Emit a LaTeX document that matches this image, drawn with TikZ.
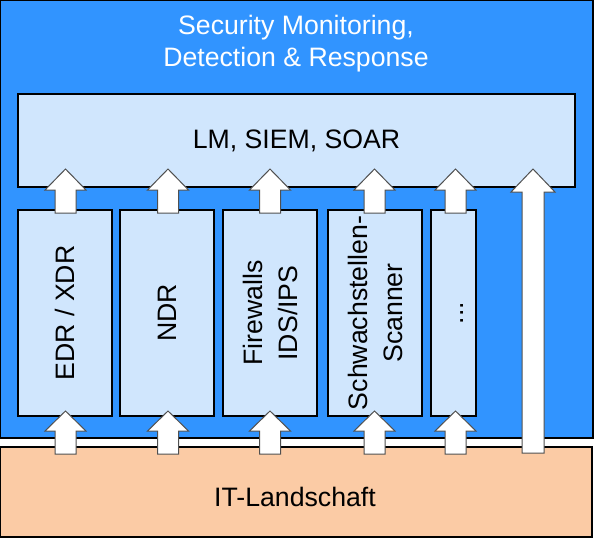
\documentclass[tikz,border=0pt]{standalone}
\usepackage{fontspec}
\setmainfont{Liberation Sans}
\usetikzlibrary{calc}
\definecolor{bgblue}{HTML}{3194FF}
\definecolor{boxblue}{HTML}{D0E6FD}
\definecolor{itorange}{HTML}{FBCBA5}
\definecolor{arrline}{HTML}{505050}
\def\pxu{0.75pt}
\newcommand\blockarr[6]{%
  \draw[blockarrow] (#1-#5,#2) -- (#1-#5,#3) -- (#1-#6,#3) -- (#1,#4) --
    (#1+#6,#3) -- (#1+#5,#3) -- (#1+#5,#2) -- cycle;}
\tikzset{
  boxbase/.style={draw=black, line width=0.8pt, inner sep=0pt, outer sep=0pt, anchor=north west},
  bluebg/.style={boxbase, fill=bgblue},
  lightbox/.style={boxbase, fill=boxblue},
  orangebox/.style={boxbase, fill=itorange},
  titletext/.style={text=white, align=center, inner sep=0pt, font=\fontsize{20}{24}\selectfont},
  bigtext/.style={text=black, inner sep=0pt, font=\fontsize{20}{24}\selectfont},
  coltext/.style={text=black, rotate=90, align=center, inner sep=0pt, font=\fontsize{20}{26.25}\selectfont},
  blockarrow/.style={fill=white, draw=arrline, line width=0.75pt, line join=miter},
}
\begin{document}
\begin{tikzpicture}[x=0.75pt, y=-0.75pt]
\useasboundingbox (0,0) rectangle (594,539);
% background areas
\node[bluebg, minimum width=592.5*\pxu, minimum height=437.5*\pxu] (smdr) at (0.5,0.5) {};
\node[orangebox, minimum width=591.5*\pxu, minimum height=90*\pxu] (it) at (0.5,447) {};
% title
\node[titletext, anchor=north] (title) at (296,15) {Security Monitoring,\\Detection \& Response};
% LM box
\node[lightbox, minimum width=557*\pxu, minimum height=93*\pxu] (lm) at (18,94) {};
\node[bigtext] (lmlabel) at (lm.center) {LM, SIEM, SOAR};
% columns
\node[lightbox, minimum width=94*\pxu, minimum height=206*\pxu] (c1) at (18,210) {};
\node[lightbox, minimum width=94*\pxu, minimum height=206*\pxu] (c2) at (120,210) {};
\node[lightbox, minimum width=94*\pxu, minimum height=206*\pxu] (c3) at (223,210) {};
\node[lightbox, minimum width=94*\pxu, minimum height=206*\pxu] (c4) at (328,210) {};
\node[lightbox, minimum width=45*\pxu, minimum height=206*\pxu] (c5) at (431,210) {};
\node[coltext] (t1) at (c1.center) {EDR / XDR};
\node[coltext] (t2) at (c2.center) {NDR};
\node[coltext] (t3) at (c3.center) {Firewalls\\IDS/IPS};
\node[coltext] (t4) at (c4.center) {Schwachstellen-\\Scanner};
\node[coltext] (t5) at ($(c5.center)+(9,0)$) {...};
% IT label
\node[bigtext] (itlabel) at (295,496.5) {IT-Landschaft};
% arrows columns -> LM
\blockarr{65.5}{213}{190}{169}{10.5}{20.5}
\blockarr{168}{213}{190}{169}{10.5}{20.5}
\blockarr{270}{213}{190}{169}{10.5}{20.5}
\blockarr{374.5}{213}{190}{169}{10.5}{20.5}
\blockarr{455.5}{213}{190}{169}{10.5}{20.5}
% arrows IT -> columns
\blockarr{65.5}{454}{431}{411}{10.5}{20.5}
\blockarr{168}{454}{431}{411}{10.5}{20.5}
\blockarr{270}{454}{431}{411}{10.5}{20.5}
\blockarr{374.5}{454}{431}{411}{10.5}{20.5}
\blockarr{455.5}{454}{431}{411}{10.5}{20.5}
% tall arrow IT -> LM
\blockarr{533}{453}{192}{169}{11}{22}
\end{tikzpicture}
\end{document}
